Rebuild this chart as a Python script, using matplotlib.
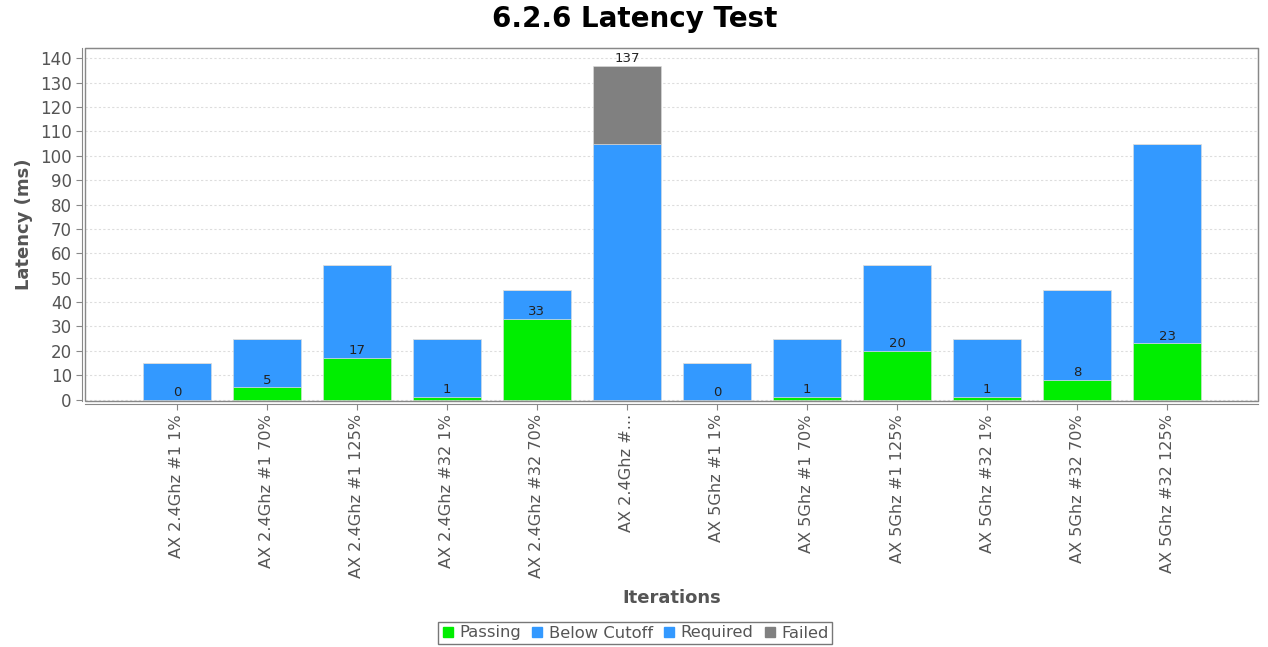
import matplotlib
matplotlib.use("Agg")
import matplotlib.pyplot as plt
from matplotlib.patches import Rectangle
from matplotlib.lines import Line2D
import numpy as np

categories = ["AX 2.4Ghz #1 1%", "AX 2.4Ghz #1 70%", "AX 2.4Ghz #1 125%",
              "AX 2.4Ghz #32 1%", "AX 2.4Ghz #32 70%", "AX 2.4Ghz #...",
              "AX 5Ghz #1 1%", "AX 5Ghz #1 70%", "AX 5Ghz #1 125%",
              "AX 5Ghz #32 1%", "AX 5Ghz #32 70%", "AX 5Ghz #32 125%"]
passing = [0, 5, 17, 1, 33, 0, 0, 1, 20, 1, 8, 23]
below_cutoff = [15, 20, 38, 24, 12, 0, 15, 24, 35, 24, 37, 82]
required = [0, 0, 0, 0, 0, 105, 0, 0, 0, 0, 0, 0]
failed = [0, 0, 0, 0, 0, 32, 0, 0, 0, 0, 0, 0]
labels = [0, 5, 17, 1, 33, 137, 0, 1, 20, 1, 8, 23]

GREEN = "#00ee00"
BLUE = "#3399ff"
GRAY = "#808080"
TXT = "#555555"

fig = plt.figure(figsize=(12.68, 6.47), dpi=100)
ax = fig.add_axes([85/1268, 1-401/647, (1258-85)/1268, (401-48)/647])

for s in ["top", "right"]:
    ax.spines[s].set_color("#888888")
for s in ["left", "bottom"]:
    ax.spines[s].set_color("#888888")
    ax.spines[s].set_position(("outward", 2))

x = np.arange(len(categories))
w = 0.76
p = np.array(passing); b = np.array(below_cutoff); r = np.array(required); f = np.array(failed)
ax.bar(x, p, w, color=GREEN, edgecolor="#dddddd", linewidth=0.4, zorder=3)
ax.bar(x, b, w, bottom=p, color=BLUE, edgecolor="#dddddd", linewidth=0.4, zorder=3)
ax.bar(x, r, w, bottom=p+b, color=BLUE, edgecolor="#dddddd", linewidth=0.4, zorder=3)
ax.bar(x, f, w, bottom=p+b+r, color=GRAY, edgecolor="#dddddd", linewidth=0.4, zorder=3)

for i, lab in enumerate(labels):
    ax.text(x[i], lab + 0.3, str(lab), ha="center", va="bottom", fontsize=9.5,
            color="#222222", zorder=4)

ax.set_xlim(-1.02, 12.01)
ax.set_ylim(-0.6, 144.2)
ax.set_yticks(range(0, 141, 10))
ax.set_xticks(x)
ax.set_xticklabels(categories, rotation=90, fontsize=11.6, color=TXT)
ax.tick_params(axis="y", labelsize=12, labelcolor=TXT, color="#888888", length=4)
ax.tick_params(axis="x", color="#888888", length=4)
ax.yaxis.grid(True, linestyle=(0, (2, 2)), color="#dddddd", linewidth=0.8, zorder=0)
ax.set_axisbelow(True)

# inner plot border
ax.add_patch(Rectangle((0, 0), 1, 1, transform=ax.transAxes, fill=False,
                       edgecolor="#888888", linewidth=1.0, zorder=5, clip_on=False))

ax.set_ylabel("Latency (ms)", fontsize=13, fontweight="bold", color=TXT, labelpad=5)
ax.set_xlabel("Iterations", fontsize=13, fontweight="bold", color=TXT, labelpad=8)
fig.text(635/1268, 1-19/647, "6.2.6 Latency Test", fontsize=20, fontweight="bold",
         ha="center", va="center")

handles = [Line2D([], [], marker="s", linestyle="none", markersize=7, color=c)
           for c in [GREEN, BLUE, BLUE, GRAY]]
leg = fig.legend(handles, ["Passing", "Below Cutoff", "Required", "Failed"],
                 loc="center", bbox_to_anchor=(635/1268, 1-633/647), ncol=4,
                 fontsize=11.8, frameon=True, fancybox=False, handlelength=0.8,
                 handletextpad=0.3, columnspacing=0.6, borderpad=0.2,
                 labelcolor=TXT)
leg.get_frame().set_edgecolor("#555555")
leg.get_frame().set_linewidth(1.0)

fig.savefig("out.png", dpi=100)
